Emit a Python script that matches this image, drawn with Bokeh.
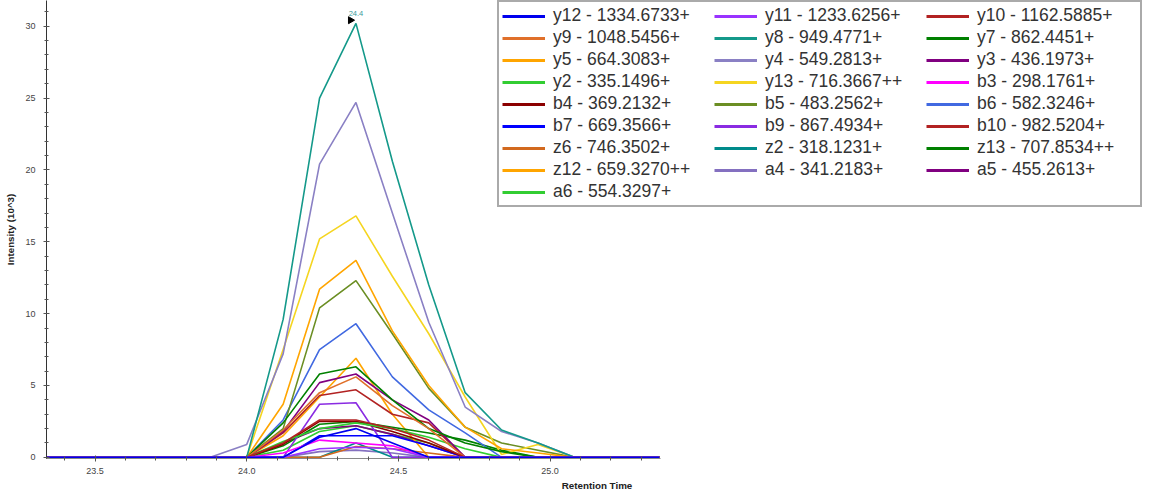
import math
from bokeh.plotting import figure
from bokeh.models import Range1d, FixedTicker, Legend, LegendItem, PrintfTickFormatter
from bokeh.core.properties import value
from bokeh.embed import file_html
from bokeh.resources import INLINE

# Retention times (min)
rt = [23.28, 23.40, 23.52, 23.64, 23.76, 23.88, 24.00, 24.12, 24.24, 24.36,
      24.48, 24.60, 24.72, 24.84, 24.96, 25.08, 25.20, 25.32, 25.36]

# Intensities (10^3) per transition
y12 = [0, 0, 0, 0, 0, 0, 0, 0, 1.4, 2.0, 1.0, 0, 0, 0, 0, 0, 0, 0, 0]
y11 = [0, 0, 0, 0, 0, 0, 0, 0, 0.6, 0.7, 0.6, 0, 0, 0, 0, 0, 0, 0, 0]
y10 = [0, 0, 0, 0, 0, 0, 0, 1.0, 2.6, 2.6, 2.0, 1.2, 0, 0, 0, 0, 0, 0, 0]
y9 = [0, 0, 0, 0, 0, 0, 0, 1.9, 4.5, 5.6, 3.6, 2.0, 0, 0, 0, 0, 0, 0, 0]
y8 = [0, 0, 0, 0, 0, 0, 0, 9.6, 25.0, 30.2, 20.6, 12.0, 4.5, 1.9, 1.0, 0, 0, 0, 0]
y7 = [0, 0, 0, 0, 0, 0, 0, 2.4, 5.8, 6.3, 4.0, 2.0, 1.0, 0.4, 0, 0, 0, 0, 0]
y5 = [0, 0, 0, 0, 0, 0, 0, 3.7, 11.7, 13.7, 8.8, 5.0, 2.1, 0.6, 0.3, 0, 0, 0, 0]
y4 = [0, 0, 0, 0, 0, 0, 0.9, 7.2, 20.4, 24.7, 17.0, 9.4, 3.5, 1.8, 1.0, 0, 0, 0, 0]
y3 = [0, 0, 0, 0, 0, 0, 0, 1.8, 5.2, 5.8, 4.0, 2.6, 0, 0, 0, 0, 0, 0, 0]
y2 = [0, 0, 0, 0, 0, 0, 0, 1.1, 2.0, 2.4, 2.0, 1.4, 0.6, 0, 0, 0, 0, 0, 0]
y13 = [0, 0, 0, 0, 0, 0, 0, 7.5, 15.2, 16.8, 12.6, 8.6, 4.2, 0.2, 0.9, 0, 0, 0, 0]
b3 = [0, 0, 0, 0, 0, 0, 0, 0.3, 1.2, 1.0, 0.8, 0, 0, 0, 0, 0, 0, 0, 0]
b4 = [0, 0, 0, 0, 0, 0, 0, 0.9, 2.5, 2.5, 1.8, 1.0, 0, 0, 0, 0, 0, 0, 0]
b5 = [0, 0, 0, 0, 0, 0, 0, 2.0, 10.4, 12.3, 8.6, 4.8, 2.1, 1.0, 0.5, 0, 0, 0, 0]
b6 = [0, 0, 0, 0, 0, 0, 0, 2.6, 7.5, 9.3, 5.6, 3.3, 1.7, 0, 0, 0, 0, 0, 0]
b7 = [0, 0, 0, 0, 0, 0, 0, 0, 1.5, 1.5, 1.5, 0.8, 0, 0, 0, 0, 0, 0, 0]
b9 = [0, 0, 0, 0, 0, 0, 0, 0, 3.7, 3.8, 0, 0, 0, 0, 0, 0, 0, 0, 0]
b10 = [0, 0, 0, 0, 0, 0, 0, 1.7, 4.3, 4.7, 3.0, 2.4, 0, 0, 0, 0, 0, 0, 0]
z6 = [0, 0, 0, 0, 0, 0, 0, 0, 0, 0.75, 0.6, 0.3, 0, 0, 0, 0, 0, 0, 0]
z2 = [0, 0, 0, 0, 0, 0, 0, 0, 0, 1.0, 0, 0, 0, 0, 0, 0, 0, 0, 0]
z13 = [0, 0, 0, 0, 0, 0, 0, 0.8, 2.3, 2.5, 2.1, 1.7, 1.2, 0.5, 0, 0, 0, 0, 0]
z12 = [0, 0, 0, 0, 0, 0, 0, 1.5, 4.2, 6.9, 3.0, 0, 0, 0, 0, 0, 0, 0, 0]
a4 = [0, 0, 0, 0, 0, 0, 0, 0, 0.4, 0.5, 0.3, 0, 0, 0, 0, 0, 0, 0, 0]
a5 = [0, 0, 0, 0, 0, 0, 0, 1.0, 2.0, 2.2, 1.6, 0.8, 0, 0, 0, 0, 0, 0, 0]
a6 = [0, 0, 0, 0, 0, 0, 0, 0.5, 1.8, 2.2, 1.6, 1.0, 0, 0, 0, 0, 0, 0, 0]

labels = ["y12 - 1334.6733+", "y11 - 1233.6256+", "y10 - 1162.5885+",
          "y9 - 1048.5456+", "y8 - 949.4771+", "y7 - 862.4451+",
          "y5 - 664.3083+", "y4 - 549.2813+", "y3 - 436.1973+",
          "y2 - 335.1496+", "y13 - 716.3667++", "b3 - 298.1761+",
          "b4 - 369.2132+", "b5 - 483.2562+", "b6 - 582.3246+",
          "b7 - 669.3566+", "b9 - 867.4934+", "b10 - 982.5204+",
          "z6 - 746.3502+", "z2 - 318.1231+", "z13 - 707.8534++",
          "z12 - 659.3270++", "a4 - 341.2183+", "a5 - 455.2613+",
          "a6 - 554.3297+"]
series = [y12, y11, y10, y9, y8, y7, y5, y4, y3, y2, y13, b3, b4, b5, b6,
          b7, b9, b10, z6, z2, z13, z12, a4, a5, a6]
colors = ["#0000ee", "#9933ff", "#b22222", "#e0702a", "#14998a", "#008000",
          "#ffa500", "#8a80c4", "#800080", "#32cd32", "#f5d520", "#ff00ff",
          "#8b0000", "#6b8e23", "#4169e1", "#0000ff", "#8a2be2", "#b22222",
          "#d2691e", "#008b8b", "#008000", "#ffa500", "#8470c0", "#800080",
          "#32cd32"]

x_ticks = [23.5, 24.0, 24.5, 25.0]
x_minor = [23.4, 23.5, 23.6, 23.7, 23.8, 23.9, 24.0, 24.1, 24.2, 24.3, 24.4,
           24.5, 24.6, 24.7, 24.8, 24.9, 25.0, 25.1, 25.2, 25.3]
y_ticks = [0, 5, 10, 15, 20, 25, 30]
y_minor = list(range(0, 32))

X_START, X_AXIS_END = 23.34, 25.364

p = figure(width=1149, height=497, output_backend="svg", toolbar_location=None,
           x_range=Range1d(X_START, 26.969), y_range=Range1d(-0.08, 31.79),
           min_border_left=46, min_border_right=2, min_border_top=0,
           min_border_bottom=39)
p.xgrid.visible = False
p.ygrid.visible = False
p.outline_line_color = None
p.background_fill_color = "white"

for ax in (p.xaxis[0], p.yaxis[0]):
    ax.major_label_text_font = "Liberation Sans"
    ax.major_label_text_font_size = "9px"
    ax.major_label_text_color = "#444444"
    ax.axis_label_text_font = "Liberation Sans"
    ax.axis_label_text_font_size = "9.8px"
    ax.axis_label_text_font_style = "bold"
    ax.axis_label_text_color = "#222222"
    ax.major_tick_in = 3
    ax.major_tick_out = 3
    ax.minor_tick_in = 2
    ax.minor_tick_out = 2
    ax.major_tick_line_color = "#555555"
    ax.minor_tick_line_color = "#555555"

p.xaxis.ticker = FixedTicker(ticks=x_ticks, minor_ticks=x_minor)
p.yaxis.ticker = FixedTicker(ticks=y_ticks, minor_ticks=y_minor)
p.xaxis.bounds = (X_START, X_AXIS_END)
p.xaxis.formatter = PrintfTickFormatter(format="%.1f")
p.xaxis.axis_label = "Retention Time"
p.yaxis.axis_label = "Intensity (10^3)"
p.xaxis.axis_line_color = "#888888"
p.yaxis.axis_line_color = "#333333"
p.xaxis.major_label_standoff = 6
p.yaxis.major_label_standoff = 8
p.xaxis.axis_label_standoff = 3
p.yaxis.axis_label_standoff = 6

# draw in reverse so the first transition sits on top
for ys, col in reversed(list(zip(series, colors))):
    p.line(x=rt, y=ys, line_color=col, line_width=1.6)

# legend with thicker sample lines (single NaN point: nothing drawn in plot)
nan = float("nan")
items = []
for lab, col in zip(labels, colors):
    r = p.line(x=[nan], y=[nan], line_color=col, line_width=3)
    items.append(LegendItem(label=lab, renderers=[r]))

legend = Legend(items=items, ncols=3, orientation="horizontal",
                location=(451, 251), margin=0, padding=3, spacing=1,
                glyph_width=43, glyph_height=16, label_standoff=8,
                label_width=160, label_height=16,
                label_text_font="Liberation Sans", label_text_font_size="17.5px",
                label_text_color="#333333",
                border_line_color="#555555", border_line_width=2,
                background_fill_color="white", background_fill_alpha=1.0)
p.add_layout(legend, "center")

# apex marker
ipk = max(range(len(y8)), key=lambda i: y8[i])
pk_x, pk_y = rt[ipk], y8[ipk]
p.scatter(x=[pk_x - 0.018], y=[pk_y + 0.22], marker="triangle",
          angle=-math.pi / 2, size=7, fill_color="black", line_color="black")
p.text(x=[pk_x], y=[pk_y], text=[f"{pk_x:.1f}"], text_align="center",
       text_baseline="bottom", y_offset=-7,
       text_font=value("Liberation Sans"), text_font_size="7.5px",
       text_color="#3a9a9a")

open("out.html", "w").write(file_html(p, INLINE))
